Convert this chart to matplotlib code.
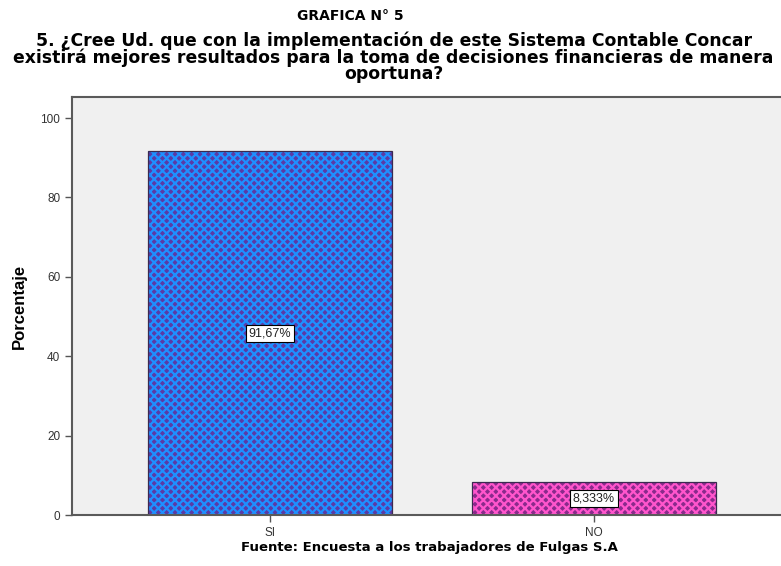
import matplotlib.pyplot as plt

# data
categories = ["SI", "NO"]
percentages = [91.67, 8.333]
value_labels = ["91,67%", "8,333%"]
base_colors = ["#5b3aa6", "#8a2a8c"]
lattice_colors = ["#1e90ff", "#ff55cc"]

plt.rcParams["hatch.linewidth"] = 1.6

fig = plt.figure(figsize=(7.81, 5.66), dpi=100)
ax = fig.add_axes([0.0922, 0.0901, 0.9078, 0.7385])
ax.set_facecolor("#f0f0f0")

x = list(range(len(categories)))
for xi, val, bc, lc, lab in zip(x, percentages, base_colors, lattice_colors, value_labels):
    # dark base with a bright diagonal lattice, then the outline on top
    ax.bar(xi, val, width=0.753, color=bc, edgecolor=lc, hatch="xxxx", linewidth=0)
    ax.bar(xi, val, width=0.753, fill=False, edgecolor="#3a2a50", linewidth=0.9)
    ax.text(xi, val / 2, lab, ha="center", va="center", fontsize=9,
            family="Liberation Sans", color="#222222",
            bbox=dict(boxstyle="square,pad=0.2", fc="white", ec="black", lw=0.8))

ax.set_xlim(-0.611, 1.577)
ax.set_ylim(0, 105.3)
ax.set_yticks([0, 20, 40, 60, 80, 100])
ax.set_xticks(x)
ax.set_xticklabels(categories)
ax.tick_params(axis="both", direction="out", length=5, width=1, color="#555555",
               labelsize=8.5, labelcolor="#333333")
for lbl in ax.get_xticklabels() + ax.get_yticklabels():
    lbl.set_family("Liberation Sans")

for side in ["left", "bottom", "top"]:
    ax.spines[side].set_color("#5a5a5a")
    ax.spines[side].set_linewidth(1.5)
ax.spines["right"].set_visible(False)

ax.set_ylabel("Porcentaje", fontsize=12, fontweight="bold", family="Liberation Sans",
              labelpad=10)

fig.text(0.449, 0.972, "GRAFICA N° 5", ha="center", va="center", fontsize=10,
         fontweight="bold", family="DejaVu Sans")
fig.text(0.504, 0.899,
         "5. ¿Cree Ud. que con la implementación de este Sistema Contable Concar\n"
         "existirá mejores resultados para la toma de decisiones financieras de manera\n"
         "oportuna?",
         ha="center", va="center", fontsize=12.4, fontweight="bold",
         family="DejaVu Sans", linespacing=0.86)
fig.text(0.55, 0.032, "Fuente: Encuesta a los trabajadores de Fulgas S.A",
         ha="center", va="center", fontsize=9.5, fontweight="bold", family="DejaVu Sans")

fig.savefig("out.png", dpi=100)
